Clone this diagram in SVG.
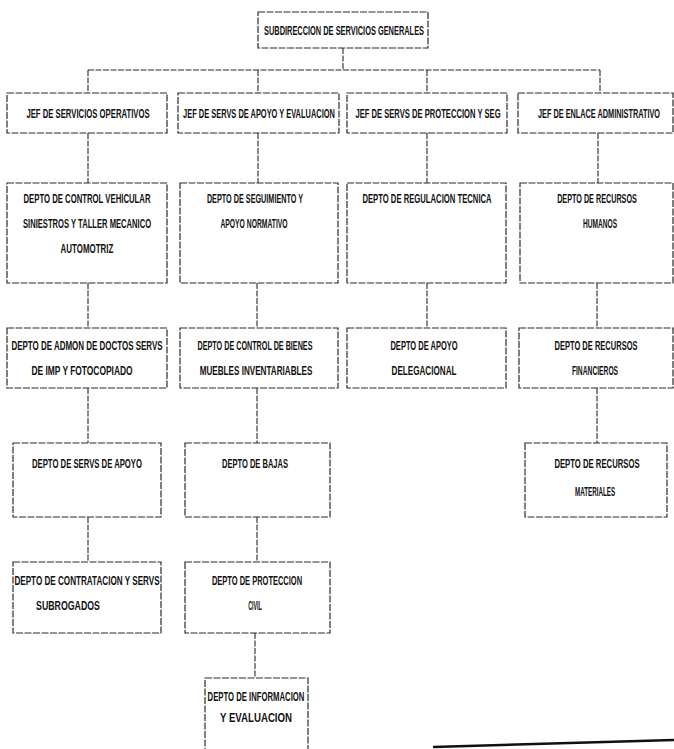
<svg xmlns="http://www.w3.org/2000/svg" width="674" height="749" viewBox="0 0 674 749">
<style>
.box{fill:#fff;stroke:#2a2a2a;stroke-width:1.2;stroke-dasharray:7 1.5}
.t{font-family:"Liberation Sans",Arial,sans-serif;font-size:12px;font-weight:bold;fill:#111;text-anchor:middle}
.c{stroke:#2a2a2a;stroke-width:1.1;fill:none;stroke-dasharray:6 1.5}
</style>
<rect width="674" height="749" fill="#fff"/>
<g id="connectors">
<path class="c" d="M343 48V70M88 70H600M88 70V93M258 70V93M427 70V93M600 70V93"/>
<path class="c" d="M88 133V183M258 133V183M427 133V183M598 133V183"/>
<path class="c" d="M88 283V328M257 283V328M427 283V328M597 283V328"/>
<path class="c" d="M88 388V443M257 388V443M597 388V443"/>
<path class="c" d="M88 517V562M257 517V562M255 633V678"/>
</g>
<g id="n0"><rect class="box" x="258" y="12" width="170" height="36"/><text class="t" transform="translate(344 35) scale(0.55 1)" textLength="291" lengthAdjust="spacingAndGlyphs">SUBDIRECCION DE SERVICIOS GENERALES</text></g>
<g id="h1"><rect class="box" x="7" y="93" width="160" height="40"/><text class="t" transform="translate(88 118) scale(0.55 1)" textLength="224" lengthAdjust="spacingAndGlyphs">JEF DE SERVICIOS OPERATIVOS</text></g>
<g id="h2"><rect class="box" x="178" y="93" width="161" height="40"/><text class="t" transform="translate(259 118) scale(0.55 1)" textLength="276" lengthAdjust="spacingAndGlyphs">JEF DE SERVS DE APOYO Y EVALUACION</text></g>
<g id="h3"><rect class="box" x="347" y="93" width="160" height="40"/><text class="t" transform="translate(428 118) scale(0.55 1)" textLength="264" lengthAdjust="spacingAndGlyphs">JEF DE SERVS DE PROTECCION Y SEG</text></g>
<g id="h4"><rect class="box" x="518" y="93" width="155" height="40"/><text class="t" transform="translate(599 118) scale(0.55 1)" textLength="222" lengthAdjust="spacingAndGlyphs">JEF DE ENLACE ADMINISTRATIVO</text></g>
<g id="r2c1"><rect class="box" x="7" y="183" width="160" height="100"/>
<text class="t" transform="translate(87 203) scale(0.55 1)" textLength="231" lengthAdjust="spacingAndGlyphs">DEPTO DE CONTROL VEHICULAR</text>
<text class="t" transform="translate(87 228) scale(0.55 1)" textLength="233" lengthAdjust="spacingAndGlyphs">SINIESTROS Y TALLER MECANICO</text>
<text class="t" transform="translate(87 253) scale(0.55 1)" textLength="96" lengthAdjust="spacingAndGlyphs">AUTOMOTRIZ</text></g>
<g id="r2c2"><rect class="box" x="180" y="183" width="158" height="100"/>
<text class="t" transform="translate(255 203) scale(0.55 1)" textLength="175" lengthAdjust="spacingAndGlyphs">DEPTO DE SEGUIMIENTO Y</text>
<text class="t" transform="translate(254 228) scale(0.55 1)" textLength="122" lengthAdjust="spacingAndGlyphs">APOYO NORMATIVO</text></g>
<g id="r2c3"><rect class="box" x="347" y="183" width="159" height="100"/>
<text class="t" transform="translate(427 203) scale(0.55 1)" textLength="235" lengthAdjust="spacingAndGlyphs">DEPTO DE REGULACION TECNICA</text></g>
<g id="r2c4"><rect class="box" x="520" y="183" width="153" height="100"/>
<text class="t" transform="translate(597 203) scale(0.55 1)" textLength="145" lengthAdjust="spacingAndGlyphs">DEPTO DE RECURSOS</text>
<text class="t" transform="translate(600 228) scale(0.55 1)" textLength="62" lengthAdjust="spacingAndGlyphs">HUMANOS</text></g>
<g id="r3c1"><rect class="box" x="7" y="328" width="160" height="60"/>
<text class="t" transform="translate(87 350) scale(0.55 1)" textLength="275" lengthAdjust="spacingAndGlyphs">DEPTO DE ADMON DE DOCTOS SERVS</text>
<text class="t" transform="translate(82 375) scale(0.55 1)" textLength="184" lengthAdjust="spacingAndGlyphs">DE IMP Y FOTOCOPIADO</text></g>
<g id="r3c2"><rect class="box" x="180" y="328" width="158" height="60"/>
<text class="t" transform="translate(255 350) scale(0.55 1)" textLength="209" lengthAdjust="spacingAndGlyphs">DEPTO DE CONTROL DE BIENES</text>
<text class="t" transform="translate(256 375) scale(0.55 1)" textLength="205" lengthAdjust="spacingAndGlyphs">MUEBLES INVENTARIABLES</text></g>
<g id="r3c3"><rect class="box" x="347" y="328" width="159" height="60"/>
<text class="t" transform="translate(424 350) scale(0.55 1)" textLength="122" lengthAdjust="spacingAndGlyphs">DEPTO DE APOYO</text>
<text class="t" transform="translate(424 375) scale(0.55 1)" textLength="118" lengthAdjust="spacingAndGlyphs">DELEGACIONAL</text></g>
<g id="r3c4"><rect class="box" x="519" y="328" width="154" height="60"/>
<text class="t" transform="translate(596 350) scale(0.55 1)" textLength="151" lengthAdjust="spacingAndGlyphs">DEPTO DE RECURSOS</text>
<text class="t" transform="translate(595 375) scale(0.55 1)" textLength="84" lengthAdjust="spacingAndGlyphs">FINANCIEROS</text></g>
<g id="r4c1"><rect class="box" x="13" y="443" width="148" height="74"/>
<text class="t" transform="translate(87 468) scale(0.55 1)" textLength="200" lengthAdjust="spacingAndGlyphs">DEPTO DE SERVS DE APOYO</text></g>
<g id="r4c2"><rect class="box" x="185" y="443" width="145" height="74"/>
<text class="t" transform="translate(255 468) scale(0.55 1)" textLength="120" lengthAdjust="spacingAndGlyphs">DEPTO DE BAJAS</text></g>
<g id="r4c4"><rect class="box" x="525" y="443" width="142" height="74"/>
<text class="t" transform="translate(597 468) scale(0.55 1)" textLength="155" lengthAdjust="spacingAndGlyphs">DEPTO DE RECURSOS</text>
<text class="t" transform="translate(595 496) scale(0.55 1)" textLength="73" lengthAdjust="spacingAndGlyphs">MATERIALES</text></g>
<g id="r5c1"><rect class="box" x="13" y="562" width="148" height="71"/>
<text class="t" transform="translate(87 585) scale(0.55 1)" textLength="264" lengthAdjust="spacingAndGlyphs">DEPTO DE CONTRATACION Y SERVS</text>
<text class="t" transform="translate(68 610) scale(0.55 1)" textLength="116" lengthAdjust="spacingAndGlyphs">SUBROGADOS</text></g>
<g id="r5c2"><rect class="box" x="185" y="562" width="145" height="71"/>
<text class="t" transform="translate(257 585) scale(0.55 1)" textLength="164" lengthAdjust="spacingAndGlyphs">DEPTO DE PROTECCION</text>
<text class="t" transform="translate(255 610) scale(0.55 1)" textLength="25" lengthAdjust="spacingAndGlyphs">CIVIL</text></g>
<g id="r6c2"><rect class="box" x="205" y="678" width="103" height="80"/>
<text class="t" transform="translate(256 701) scale(0.55 1)" textLength="176" lengthAdjust="spacingAndGlyphs">DEPTO DE INFORMACION</text>
<text class="t" transform="translate(256 722) scale(0.55 1)" textLength="131" lengthAdjust="spacingAndGlyphs">Y EVALUACION</text></g>
<path d="M433 747L674 740" stroke="#111" stroke-width="2.5" fill="none"/>
</svg>
